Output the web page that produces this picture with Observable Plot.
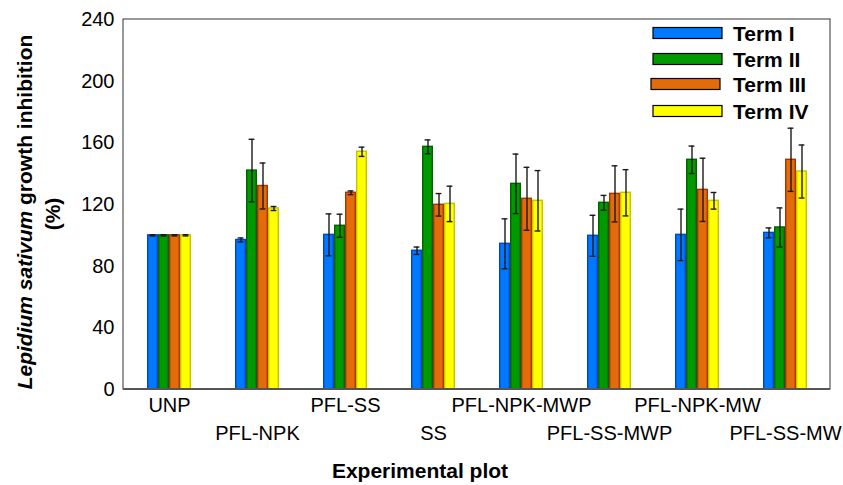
<!DOCTYPE html>
<html>
<head>
<meta charset="utf-8">
<script src="https://cdn.jsdelivr.net/npm/d3@7"></script>
<script src="https://cdn.jsdelivr.net/npm/@observablehq/plot@0.6"></script>
<style>
  html, body { margin: 0; padding: 0; background: #fff; }
  #chart svg { display: block; }
</style>
</head>
<body>
<div id="chart"></div>
<script>
const groups = ["UNP", "PFL-NPK", "PFL-SS", "SS", "PFL-NPK-MWP", "PFL-SS-MWP", "PFL-NPK-MW", "PFL-SS-MW"];
const terms = ["Term I", "Term II", "Term III", "Term IV"];
const termI      = [100, 97, 100.3, 90, 94.5, 99.7, 100.3, 101.6];
const termIErr   = [0.4, 1.3, 13.6, 2.4, 16.2, 13.3, 16.7, 3.2];
const termII     = [100, 142, 106.2, 157.4, 133.4, 121.1, 149, 105.1];
const termIIErr  = [0.4, 20.3, 7.5, 4.5, 19.3, 4.8, 8.9, 12.7];
const termIII    = [100, 132, 127.6, 119.8, 123.7, 126.9, 129.5, 149];
const termIIIErr = [0.4, 14.9, 1.2, 7.3, 20.4, 18.2, 20.5, 20.5];
const termIV     = [100, 117.4, 154.2, 120.4, 122.4, 127.6, 122.4, 141.4];
const termIVErr  = [0.4, 1.3, 3, 11.5, 19.6, 15, 5.4, 17.2];
const yTicks = [0, 40, 80, 120, 160, 200, 240];
const fillColors   = ["#0078ff", "#009a00", "#e36c0a", "#ffff00"];
const strokeColors = ["#0046c8", "#006400", "#a83200", "#c4c400"];

const seriesValues = [termI, termII, termIII, termIV];
const seriesErrors = [termIErr, termIIErr, termIIIErr, termIVErr];
const data = [];
groups.forEach((g, gi) => {
  terms.forEach((t, ti) => {
    data.push({group: g, term: t, ti, value: seriesValues[ti][gi], err: seriesErrors[ti][gi]});
  });
});
const labelsRow1 = groups.filter((g, i) => i % 2 === 0);
const labelsRow2 = groups.filter((g, i) => i % 2 === 1);

const W = 843, H = 485, mL = 123, mR = 13, mT = 19, mB = 96;
const font = "'Liberation Sans', Arial, sans-serif";

const svg = Plot.plot({
  width: W, height: H,
  marginLeft: mL, marginRight: mR, marginTop: mT, marginBottom: mB,
  style: {fontFamily: font, fontSize: "20px", color: "#000", background: "#fff"},
  fx: {domain: groups, padding: 0, axis: null, label: null},
  x: {domain: terms, paddingInner: 0, paddingOuter: 1.85, axis: null},
  y: {domain: [0, 240], ticks: yTicks, tickSize: 0, tickPadding: 11, label: null},
  marks: [
    Plot.barY(data, {fx: "group", x: "term", y: "value",
      fill: d => fillColors[d.ti], stroke: d => strokeColors[d.ti], strokeWidth: 1.4, insetLeft: 0.7, insetRight: 0.7}),
    Plot.ruleX(data, {fx: "group", x: "term", y1: d => d.value - d.err, y2: d => d.value + d.err, stroke: "#1a1a1a", strokeWidth: 1.4}),
    Plot.tickY(data, {fx: "group", x: "term", y: d => d.value - d.err, stroke: "#1a1a1a", strokeWidth: 1.4, insetLeft: 2.6, insetRight: 2.6}),
    Plot.tickY(data, {fx: "group", x: "term", y: d => d.value + d.err, stroke: "#1a1a1a", strokeWidth: 1.4, insetLeft: 2.6, insetRight: 2.6}),
    Plot.text(labelsRow1, {fx: d => d, text: d => d, frameAnchor: "bottom", dy: 22, fontSize: 20, fill: "#000"}),
    Plot.text(labelsRow2, {fx: d => d, text: d => d, frameAnchor: "bottom", dy: 50, fontSize: 20, fill: "#000"})
  ]
});
document.getElementById("chart").appendChild(svg);

const s = d3.select(svg);
// plot frame
s.append("rect").attr("x", mL).attr("y", mT).attr("width", W - mL - mR).attr("height", H - mT - mB)
  .attr("fill", "none").attr("stroke", "#333").attr("stroke-width", 1);
s.append("line").attr("x1", mL).attr("x2", W - mR).attr("y1", H - mB).attr("y2", H - mB)
  .attr("stroke", "#555").attr("stroke-width", 2);

// legend
const legendY = [33, 59, 84, 111];
const lg = s.append("g").attr("text-anchor", "start");
terms.forEach((t, i) => {
  lg.append("rect").attr("x", i === 2 ? 651 : 653).attr("y", legendY[i] - 5.5).attr("width", 69).attr("height", 11)
    .attr("fill", fillColors[i]).attr("stroke", "#000").attr("stroke-width", 1.2);
  lg.append("text").attr("x", 733).attr("y", legendY[i]).attr("dy", "0.36em").attr("text-anchor", "start")
    .attr("font-family", font).attr("font-size", 21).attr("font-weight", "bold").attr("fill", "#000").text(t);
});

// y title
const yt = s.append("text").attr("transform", "translate(24,212) rotate(-90)").attr("text-anchor", "middle").attr("dy", "0.36em")
  .attr("font-family", font).attr("font-size", 21).attr("font-weight", "bold").attr("fill", "#000");
yt.append("tspan").attr("font-style", "italic").text("Lepidium sativum");
yt.append("tspan").text(" growth inhibition");
s.append("text").attr("transform", "translate(52,214) rotate(-90)").attr("text-anchor", "middle").attr("dy", "0.36em")
  .attr("font-family", font).attr("font-size", 21).attr("font-weight", "bold").attr("fill", "#000").text("(%)");

// x title
s.append("text").attr("x", 420).attr("y", 470).attr("text-anchor", "middle").attr("dy", "0.36em")
  .attr("font-family", font).attr("font-size", 21).attr("font-weight", "bold").attr("fill", "#000").text("Experimental plot");
</script>
</body>
</html>
